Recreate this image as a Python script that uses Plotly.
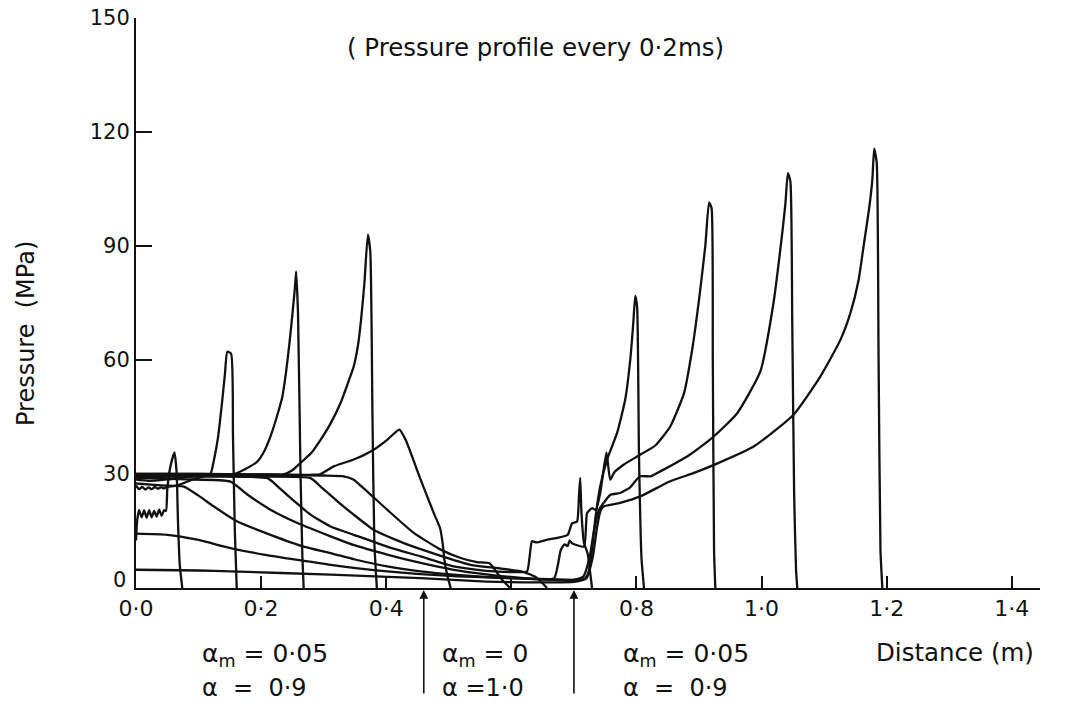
import plotly.graph_objects as go

# ---------------- data ----------------
x_tick_vals = [0.0, 0.2, 0.4, 0.6, 0.8, 1.0, 1.2, 1.4]
x_tick_text = ["0·0", "0·2", "0·4", "0·6", "0·8", "1·0", "1·2", "1·4"]
y_tick_vals = [30, 60, 90, 120, 150]
y_tick_text = ["30", "60", "90", "120", "150"]

# profile 1 (front ~0.07 m)
p1_x = [0, 0.002, 0.005, 0.009, 0.013, 0.017, 0.021, 0.025, 0.029, 0.033, 0.037, 0.041, 0.045, 0.048,
        0.05, 0.055, 0.0615, 0.065, 0.067, 0.070, 0.074]
p1_y = [12.5, 18, 20.5, 18.6, 20.4, 18.5, 20.5, 18.6, 20.3, 18.8, 20.6, 19, 20.5, 20.3,
        25.9, 32, 35.7, 30.3, 18, 6, 0]
# profile 2 (peak ~62 MPa)
p2_x = [0, 0.005, 0.01, 0.015, 0.02, 0.025, 0.03, 0.035, 0.04, 0.045, 0.05, 0.06, 0.07, 0.09, 0.11,
        0.119, 0.125, 0.131, 0.137, 0.142, 0.146, 0.152, 0.155, 0.158, 0.161]
p2_y = [27, 26, 26.6, 25.9, 26.5, 26, 26.6, 26.1, 26.5, 26.2, 26.6, 26.8, 27.2, 28.5, 29.5,
        30, 34, 39.5, 48, 56, 62.2, 61.7, 40, 15, 0]
# profile 3 (peak ~83 MPa)
p3_x = [0, 0.02, 0.05, 0.1, 0.157, 0.175, 0.194, 0.205, 0.215, 0.225, 0.234, 0.24, 0.245, 0.25,
        0.254, 0.256, 0.259, 0.263, 0.266, 0.268]
p3_y = [28.5, 28.2, 28.6, 29.5, 30, 31.3, 33.3, 36, 39.9, 45, 50.4, 57, 64, 72,
        79, 83.3, 72, 30, 8, 0]
# profile 4 (peak ~93 MPa)
p4_x = [0, 0.05, 0.1, 0.2, 0.234, 0.25, 0.263, 0.28, 0.295, 0.31, 0.327, 0.34, 0.348, 0.355, 0.36,
        0.365, 0.3706, 0.3745, 0.378, 0.381, 0.385]
p4_y = [29, 29.3, 29.6, 29.8, 29.8, 31, 32.9, 35.5, 39, 43, 48.7, 54.5, 58.3, 64, 71,
        80, 93, 88.5, 45, 12, 0]
# profile 5 (peak ~41 MPa)
p5_x = [0, 0.1, 0.2, 0.284, 0.295, 0.316, 0.348, 0.38, 0.4015, 0.421, 0.431, 0.455, 0.476, 0.486,
        0.49, 0.493, 0.498, 0.503]
p5_y = [30, 30, 29.9, 29.8, 30, 32, 33.8, 36.4, 39, 41.7, 39, 28.5, 19.7, 15.8,
        12, 7.4, 3, 0]
# profile 6
p6_x = [0, 0.1, 0.2, 0.3, 0.332, 0.348, 0.36, 0.375, 0.4015, 0.444, 0.487, 0.519, 0.545, 0.565,
        0.575, 0.585, 0.592, 0.598]
p6_y = [30, 30, 29.8, 29.6, 29.4, 28.5, 26.8, 24.6, 20.6, 14.5, 10.1, 7.9, 6.8, 6.5,
        4.5, 2.2, 1.0, 0]
# profile 7
p7_x = [0, 0.1, 0.2, 0.279, 0.295, 0.322, 0.348, 0.38, 0.428, 0.481, 0.535, 0.58, 0.62, 0.64, 0.657]
p7_y = [29.8, 29.6, 29.3, 28.9, 26.7, 22.8, 19.3, 15.3, 11.8, 8.8, 6.1, 5.2, 4.2, 2.8, 0]
# profile 8 (spike ~29 MPa at 0.71 m)
p8_x = [0, 0.1, 0.21, 0.228, 0.247, 0.279, 0.311, 0.348, 0.4015, 0.455, 0.508, 0.56, 0.6, 0.625,
        0.629, 0.633, 0.64, 0.655, 0.673, 0.69, 0.697, 0.705, 0.708, 0.710, 0.712, 0.716, 0.722,
        0.726, 0.729]
p8_y = [29.5, 29.3, 28.9, 26.5, 23.7, 19.3, 16.2, 14, 10.9, 8.3, 5.7, 4.5, 4.2, 4.4,
        8, 12.3, 12, 12.6, 13.2, 14, 17, 17.5, 24, 29, 20, 12, 9,
        4, 0]
# profile 9 (peak ~77 MPa)
p9_x = [0, 0.08, 0.151, 0.178, 0.215, 0.258, 0.311, 0.35, 0.4015, 0.455, 0.508, 0.56, 0.62, 0.66,
        0.7, 0.715, 0.72, 0.724, 0.729, 0.734, 0.742, 0.753, 0.769, 0.782, 0.79, 0.795, 0.798,
        0.801, 0.804, 0.808, 0.812]
p9_y = [29, 28.6, 28, 24.6, 20.6, 17.1, 13.6, 11.2, 8.8, 6.6, 4.8, 3.6, 2.6, 2.3,
        2.1, 2.3, 3, 4.5, 10, 18, 26.7, 33.8, 40.8, 49.6, 60, 70, 76.9,
        74, 35, 8, 0]
# profile 10 (peak ~101 MPa)
p10_x = [0, 0.04, 0.0765, 0.1, 0.124, 0.162, 0.215, 0.268, 0.311, 0.35, 0.4015, 0.455, 0.508, 0.56,
         0.62, 0.668, 0.679, 0.685, 0.69, 0.693, 0.697, 0.716, 0.721, 0.729, 0.735, 0.742, 0.752,
         0.758, 0.765, 0.78, 0.801, 0.83, 0.854, 0.876, 0.889, 0.9, 0.91, 0.916, 0.92, 0.922,
         0.924, 0.926]
p10_y = [27.5, 27, 26.7, 24.3, 21.5, 17.5, 14, 10.9, 9.2, 7.5, 5.7, 4.4, 3.5, 2.9,
         2.5, 2.5, 10, 11.5, 11, 12.5, 11.8, 10.9, 19.7, 21, 20.5, 25, 35.7,
         28.5, 30.5, 32.5, 34.6, 37.5, 42.5, 51.3, 62.7, 75.9, 90, 101.5, 100, 60,
         10, 0]
# profile 11 (peak ~109 MPa)
p11_x = [0, 0.05, 0.098, 0.151, 0.204, 0.258, 0.311, 0.4015, 0.508, 0.6, 0.7, 0.715, 0.725, 0.732,
         0.74, 0.748, 0.758, 0.774, 0.79, 0.8, 0.806, 0.823, 0.828, 0.855, 0.881, 0.921, 0.961,
         0.998, 1.019, 1.032, 1.038, 1.042, 1.046, 1.049, 1.052, 1.055, 1.057]
p11_y = [14.3, 14, 12.7, 10.5, 8.8, 7.4, 6.1, 4.4, 3.1, 2.6, 2.2, 3, 8, 15,
         20.5, 22.5, 24.5, 25, 26.5, 28.5, 29.4, 29.4, 29.8, 32.2, 34.6, 39.5, 46,
         57, 75, 92, 101, 109.2, 107, 70, 25, 5, 0]
# profile 12 (peak ~115 MPa)
p12_x = [0, 0.1, 0.151, 0.311, 0.455, 0.56, 0.65, 0.7, 0.72, 0.73, 0.737, 0.743, 0.748, 0.774,
         0.806, 0.854, 0.892, 0.924, 0.988, 1.051, 1.094, 1.126, 1.142, 1.155, 1.163, 1.172,
         1.177, 1.18, 1.184, 1.187, 1.19, 1.193]
p12_y = [4.8, 4.6, 4.4, 3.5, 2.6, 1.7, 1.5, 1.6, 2.5, 8, 16, 20.5, 21.5, 22.4,
         24.1, 28.1, 30.3, 32.4, 37.3, 45.6, 55.7, 65.3, 72.4, 81, 89.9, 100,
         107.4, 115.6, 112, 60, 10, 0]

profiles_x = [p1_x, p2_x, p3_x, p4_x, p5_x, p6_x, p7_x, p8_x, p9_x, p10_x, p11_x, p12_x]
profiles_y = [p1_y, p2_y, p3_y, p4_y, p5_y, p6_y, p7_y, p8_y, p9_y, p10_y, p11_y, p12_y]

boundary_x = [0.46, 0.70]

# ---------------- figure ----------------
W, H = 1066, 705
ML, MR, MT, MB = 136, 26, 18, 117
PW, PH = W - ML - MR, H - MT - MB


def px(xp):
    return (xp - ML) / PW


def py(yp):
    return (H - MB - yp) / PH


INK = "#111111"
FONT = "DejaVu Sans"

fig = go.Figure()
for xs, ys in zip(profiles_x, profiles_y):
    fig.add_trace(go.Scatter(x=xs, y=ys, mode="lines",
                             line=dict(color=INK, width=2.3, shape="spline", smoothing=0.5),
                             showlegend=False, hoverinfo="skip", cliponaxis=True))

annotations = [
    dict(text="( Pressure profile every 0·2ms)", x=px(535), y=py(47), xref="paper", yref="paper",
         showarrow=False, xanchor="center", yanchor="middle", font=dict(size=24.5)),
    dict(text="Pressure  (MPa)", x=px(26), y=py(334), xref="paper", yref="paper", textangle=-90,
         showarrow=False, xanchor="center", yanchor="middle", font=dict(size=24)),
    dict(text="0", x=0, y=0, xref="x", yref="y", xanchor="right", yanchor="middle",
         showarrow=False, xshift=-8, yshift=8, font=dict(size=21)),
    dict(text="α<sub>m</sub> = 0·05", x=px(200), y=py(655), xref="paper", yref="paper",
         showarrow=False, xanchor="left", yanchor="middle", font=dict(size=25)),
    dict(text="α  =  0·9", x=px(200), y=py(688), xref="paper", yref="paper",
         showarrow=False, xanchor="left", yanchor="middle", font=dict(size=24)),
    dict(text="α<sub>m</sub> = 0", x=px(440), y=py(655), xref="paper", yref="paper",
         showarrow=False, xanchor="left", yanchor="middle", font=dict(size=25)),
    dict(text="α =1·0", x=px(440), y=py(688), xref="paper", yref="paper",
         showarrow=False, xanchor="left", yanchor="middle", font=dict(size=24)),
    dict(text="α<sub>m</sub> = 0·05", x=px(621), y=py(655), xref="paper", yref="paper",
         showarrow=False, xanchor="left", yanchor="middle", font=dict(size=25)),
    dict(text="α  =  0·9", x=px(621), y=py(688), xref="paper", yref="paper",
         showarrow=False, xanchor="left", yanchor="middle", font=dict(size=24)),
    dict(text="Distance (m)", x=px(874), y=py(652), xref="paper", yref="paper",
         showarrow=False, xanchor="left", yanchor="middle", font=dict(size=24.5)),
]
for bx in boundary_x:
    annotations.append(dict(x=bx, y=0, xref="x", yref="y", text="", showarrow=True,
                            arrowhead=2, arrowsize=1.1, arrowwidth=1.6, arrowcolor=INK,
                            ax=0, ay=107, standoff=2))

fig.update_layout(
    width=W, height=H,
    margin=dict(l=ML, r=MR, t=MT, b=MB, pad=0),
    paper_bgcolor="white", plot_bgcolor="white",
    font=dict(family=FONT, color=INK, size=21),
    annotations=annotations,
    xaxis=dict(range=[0, PW / 625.6], tickvals=x_tick_vals, ticktext=x_tick_text,
               showline=True, linecolor=INK, linewidth=2, ticks="inside", ticklen=12,
               tickwidth=1.8, tickcolor=INK, showgrid=False, zeroline=False,
               automargin=False, tickfont=dict(size=22)),
    yaxis=dict(range=[0, 150], tickvals=y_tick_vals, ticktext=y_tick_text,
               showline=True, linecolor=INK, linewidth=2, ticks="inside", ticklen=16,
               tickwidth=1.8, tickcolor=INK, showgrid=False, zeroline=False,
               automargin=False, tickfont=dict(size=21)),
)

fig.write_html("out.html")
